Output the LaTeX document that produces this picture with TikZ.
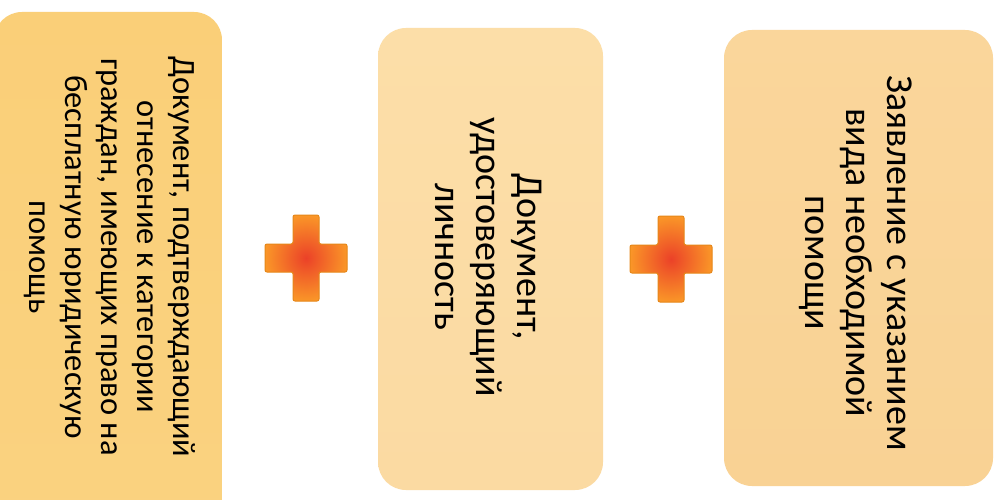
\documentclass[tikz,border=0pt]{standalone}
\usepackage{fontspec}
\setmainfont{Carlito}
\usetikzlibrary{shadings}
\definecolor{boxA}{RGB}{250,207,120}
\definecolor{boxAb}{RGB}{250,210,128}
\definecolor{boxB}{RGB}{252,222,168}
\definecolor{boxBb}{RGB}{251,218,162}
\definecolor{boxC}{RGB}{250,214,155}
\definecolor{boxCb}{RGB}{249,210,148}
\definecolor{plusin}{RGB}{235,65,40}
\definecolor{plusout}{RGB}{250,150,40}
\definecolor{plusedge}{RGB}{230,135,25}
\tikzset{
  card/.style={rounded corners=28pt, draw=none},
  vtext/.style={rotate=-90, align=center, text=black, inner sep=0pt},
  bigtxt/.style={font=\fontsize{38}{41}\selectfont},
  smalltxt/.style={font=\fontsize{32.5}{36}\selectfont},
  plusfill/.style={inner color=plusin, outer color=plusout, draw=plusedge, line width=1pt, rounded corners=2pt}
}
\newcommand{\plusat}[3]{% name, x, y
  \path[plusfill] (#2-13,#3-43) -- (#2+13,#3-43) -- (#2+13,#3-14) -- (#2+41,#3-14) -- (#2+41,#3+14) -- (#2+13,#3+14) -- (#2+13,#3+43) -- (#2-13,#3+43) -- (#2-13,#3+14) -- (#2-41,#3+14) -- (#2-41,#3-14) -- (#2-13,#3-14) -- cycle;
  \coordinate (#1) at (#2,#3);
}
\begin{document}
\begin{tikzpicture}[x=1pt,y=-1pt]
\useasboundingbox (0,0) rectangle (1006,500);
\fill[white] (0,0) rectangle (1006,500);
% boxes
\path[card, top color=boxA, bottom color=boxAb] (-6,12) rectangle (222,530);
\path[card, top color=boxB, bottom color=boxBb] (378,28) rectangle (603,490);
\path[card, top color=boxC, bottom color=boxCb] (724,30) rectangle (993,486);
% texts
\node[vtext, smalltxt] (t1) at (110,257) {Документ, подтверждающий\\отнесение к категории\\граждан, имеющих право на\\бесплатную юридическую\\помощь};
\node[vtext, bigtxt] (t2) at (489,257) {Документ,\\удостоверяющий\\личность};
\node[vtext, bigtxt] (t3) at (856,263) {Заявление с указанием\\вида необходимой\\помощи};
% plus signs
\plusat{p1}{306}{258}
\plusat{p2}{671}{259}
\end{tikzpicture}
\end{document}
